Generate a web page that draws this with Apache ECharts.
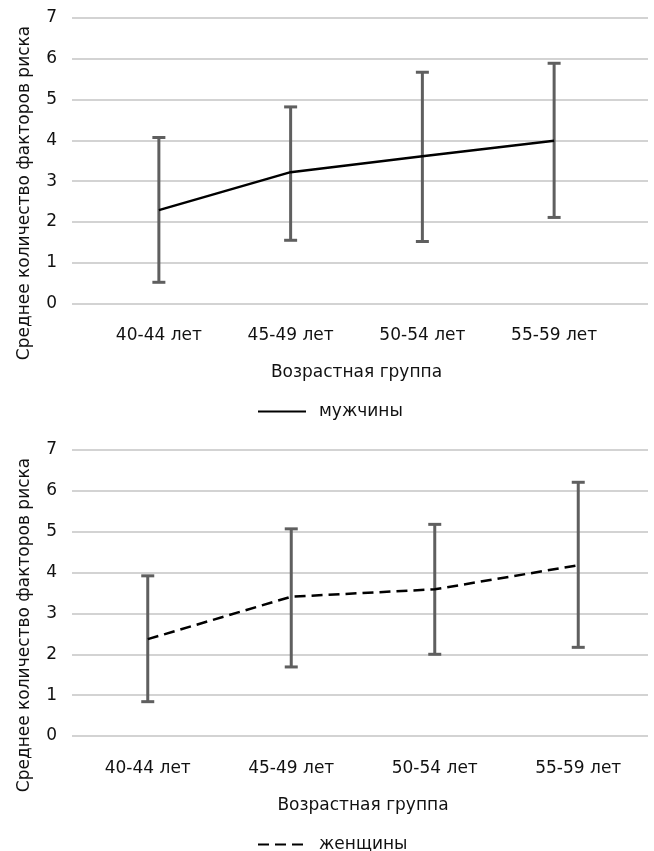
<!DOCTYPE html>
<html>
<head>
<meta charset="utf-8">
<script src="https://cdn.jsdelivr.net/npm/echarts@6/dist/echarts.min.js"></script>
<style>
  html, body { margin: 0; padding: 0; background: #fff; }
  #chart { width: 654px; height: 851px; }
</style>
</head>
<body>
<div id="chart"></div>
<script>
// категории и значения
const ageGroups = ["40-44 лет", "45-49 лет", "50-54 лет", "55-59 лет"];
const yTicks = [0, 1, 2, 3, 4, 5, 6, 7];

const menMean = [2.29, 3.22, 3.61, 3.99];
const menLow = [0.52, 1.55, 1.52, 2.11];
const menHigh = [4.07, 4.82, 5.67, 5.89];

const womenMean = [2.37, 3.41, 3.59, 4.18];
const womenLow = [0.84, 1.69, 2.0, 2.17];
const womenHigh = [3.92, 5.07, 5.18, 6.21];

const font = "DejaVu Sans";
const textColor = "#111";
const barColor = "#5f5f5f";

// усы (error bars) через custom series
function errorBar(params, api) {
  const x = api.value(0);
  const lo = api.coord([x, api.value(1)]);
  const hi = api.coord([x, api.value(2)]);
  const cap = 6.5;
  const style = { stroke: barColor, lineWidth: 3 };
  return {
    type: "group",
    children: [
      { type: "line", shape: { x1: lo[0], y1: lo[1], x2: hi[0], y2: hi[1] }, style },
      { type: "line", shape: { x1: lo[0] - cap, y1: lo[1], x2: lo[0] + cap, y2: lo[1] }, style },
      { type: "line", shape: { x1: hi[0] - cap, y1: hi[1], x2: hi[0] + cap, y2: hi[1] }, style },
    ],
  };
}

function barData(low, high) {
  return ageGroups.map((_, i) => [i, low[i], high[i]]);
}

// верх/низ панелей
const panels = [
  { top: 18, height: 285.5, dataLeft: 93, dataWidth: 527, nameY: 193, legendTop: 398 },
  { top: 450, height: 286, dataLeft: 76, dataWidth: 574, nameY: 625, legendTop: 831 },
];

const grid = [];
const xAxis = [];
const yAxis = [];
panels.forEach((p) => {
  // сетка с линиями
  grid.push({ left: 72, right: 6, top: p.top, height: p.height });
  // сетка для данных
  grid.push({ left: p.dataLeft, width: p.dataWidth, top: p.top, height: p.height });
});

panels.forEach((p, k) => {
  xAxis.push({ gridIndex: k * 2, type: "value", show: false });
  xAxis.push({
    gridIndex: k * 2 + 1,
    type: "category",
    data: ageGroups,
    boundaryGap: true,
    axisLine: { show: false },
    axisTick: { show: false },
    axisLabel: { margin: 24, fontSize: 17, fontFamily: font, color: textColor },
    name: "Возрастная группа",
    nameLocation: "middle",
    nameGap: 61,
    nameTextStyle: { fontSize: 17, fontFamily: font, color: textColor },
  });
  yAxis.push({
    gridIndex: k * 2,
    type: "value",
    min: yTicks[0],
    max: yTicks[yTicks.length - 1],
    interval: 1,
    axisLine: { show: false },
    axisTick: { show: false },
    axisLabel: { margin: 15, fontSize: 17, fontFamily: font, color: textColor },
    splitLine: { lineStyle: { color: "#c4c4c4", width: 1.5 } },
  });
  yAxis.push({
    gridIndex: k * 2 + 1,
    type: "value",
    min: yTicks[0],
    max: yTicks[yTicks.length - 1],
    show: false,
    splitLine: { show: false },
  });
});

const legends = ["мужчины", "женщины"].map((name, k) => ({
  data: [name],
  left: 252,
  top: panels[k].legendTop,
  itemWidth: 48,
  itemHeight: 14,
  itemStyle: { opacity: 0 },
  textStyle: { fontSize: 17, fontFamily: font, color: textColor, padding: [0, 0, 0, 8] },
}));

const option = {
  animation: false,
  backgroundColor: "#fff",
  grid,
  xAxis,
  yAxis,
  legend: legends,
  graphic: panels.map((p) => ({
    type: "text",
    x: 25,
    y: p.nameY,
    rotation: Math.PI / 2,
    style: {
      text: "Среднее количество факторов риска",
      fontSize: 17,
      fontFamily: font,
      fill: textColor,
      align: "center",
      verticalAlign: "middle",
    },
  })),
  series: [
    {
      type: "custom",
      xAxisIndex: 1,
      yAxisIndex: 1,
      renderItem: errorBar,
      data: barData(menLow, menHigh),
      z: 2,
    },
    {
      name: "мужчины",
      type: "line",
      xAxisIndex: 1,
      yAxisIndex: 1,
      data: menMean,
      symbol: "none",
      color: "#000",
      lineStyle: { color: "#000", width: 2.5 },
      z: 3,
    },
    {
      type: "custom",
      xAxisIndex: 3,
      yAxisIndex: 3,
      renderItem: errorBar,
      data: barData(womenLow, womenHigh),
      z: 2,
    },
    {
      name: "женщины",
      type: "line",
      xAxisIndex: 3,
      yAxisIndex: 3,
      data: womenMean,
      symbol: "none",
      color: "#000",
      lineStyle: { color: "#000", width: 2.5, type: [11, 6] },
      z: 3,
    },
  ],
};

const chart = echarts.init(document.getElementById("chart"));
chart.setOption(option);
</script>
</body>
</html>
